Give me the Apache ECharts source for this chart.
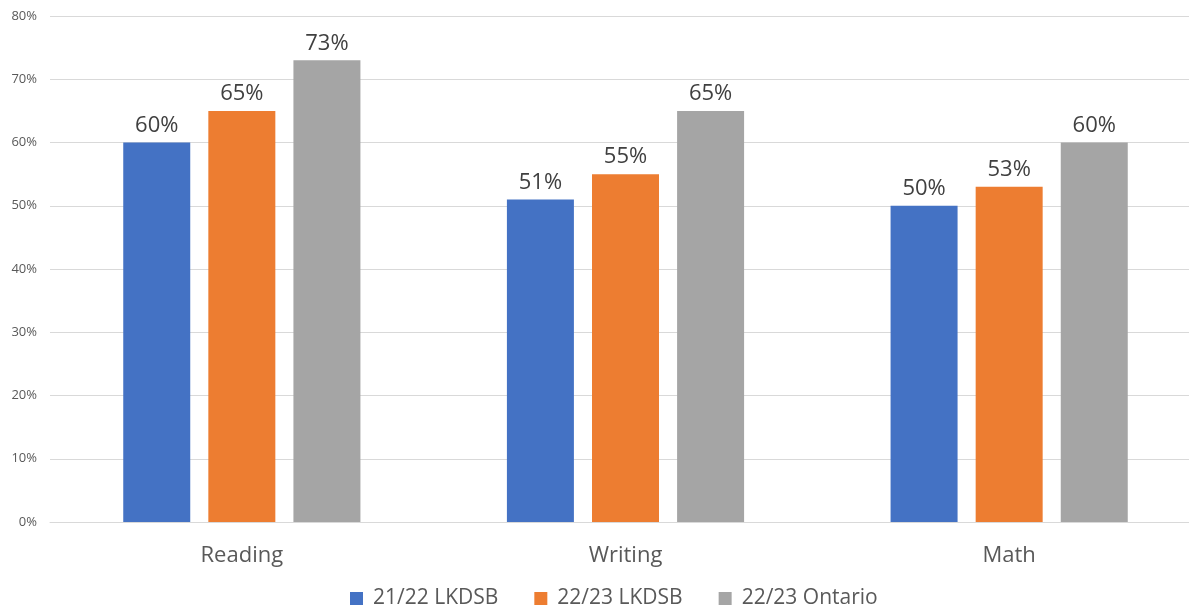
<!DOCTYPE html>
<html><head><meta charset="utf-8">
<script src="https://cdn.jsdelivr.net/npm/echarts@6/dist/echarts.min.js"></script>
<style>html,body{margin:0;padding:0;background:#fff}#c{width:1189px;height:608px}</style>
</head><body><div id="c"></div>
<script>
const categories = ['Reading', 'Writing', 'Math'];
const seriesNames = ['21/22 LKDSB', '22/23 LKDSB', '22/23 Ontario'];
const lk2122 = [60, 51, 50];
const lk2223 = [65, 55, 53];
const ontario2223 = [73, 65, 60];
const yTicks = [0, 10, 20, 30, 40, 50, 60, 70, 80];
const colors = ['#4472C4', '#ED7D31', '#A5A5A5'];
const font = 'Open Sans';
const chart = echarts.init(document.getElementById('c'));
const mk = (name, data, color) => ({
  name, type: 'bar', data, barWidth: 67, barGap: '27%',
  itemStyle: { color },
  label: { show: true, position: 'top', distance: 6, formatter: '{c}%', fontSize: 22, color: '#404040', fontFamily: font }
});
chart.setOption({
  animation: false,
  textStyle: { fontFamily: font },
  grid: { left: 50, width: 1151, top: 16, height: 506, containLabel: false, outerBoundsMode: 'none' },
  legend: {
    top: 583, left: 345, itemWidth: 13, itemHeight: 13, itemGap: 36,
    icon: 'rect', textStyle: { fontSize: 21, color: '#595959', fontFamily: font, padding: [0, 0, 0, 5] },
    data: seriesNames
  },
  xAxis: {
    type: 'category', data: categories,
    axisLine: { lineStyle: { color: '#D9D9D9' } }, axisTick: { show: false },
    axisLabel: { fontSize: 22, color: '#595959', margin: 23, fontFamily: font }
  },
  yAxis: {
    type: 'value', min: yTicks[0], max: yTicks[yTicks.length - 1], interval: 10,
    axisLine: { show: false }, axisTick: { show: false },
    splitLine: { lineStyle: { color: '#D9D9D9' } },
    axisLabel: { formatter: '{value}%', fontSize: 13, color: '#595959', margin: 13, fontFamily: font }
  },
  series: [mk(seriesNames[0], lk2122, colors[0]), mk(seriesNames[1], lk2223, colors[1]), mk(seriesNames[2], ontario2223, colors[2])]
});
</script></body></html>
